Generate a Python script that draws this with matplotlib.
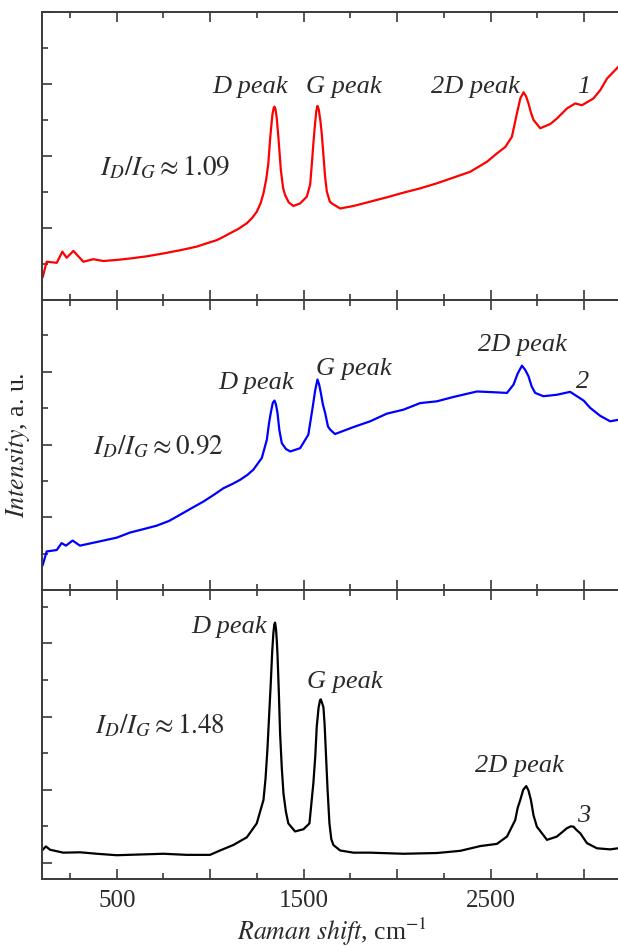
import matplotlib
matplotlib.use("Agg")
import matplotlib.pyplot as plt
from matplotlib.ticker import MultipleLocator, FuncFormatter

plt.rcParams['font.family'] = ['Liberation Serif', 'DejaVu Serif']
plt.rcParams['mathtext.fontset'] = 'stix'

# ---- Data ----
wn1 = [104, 125, 179, 209, 232, 268, 321, 375, 428, 500, 571, 660, 749, 840, 928, 980, 1035,
       1070, 1106, 1150, 1196, 1225, 1249, 1270, 1285, 1300, 1311, 1322, 1333, 1340, 1344,
       1349, 1356, 1365, 1378, 1390, 1401, 1420, 1445, 1481, 1517, 1535, 1544, 1553, 1561,
       1568, 1574, 1581, 1590, 1597, 1606, 1615, 1624, 1640, 1651, 1695, 1767, 1856, 1945,
       2034, 2124, 2213, 2302, 2391, 2481, 2534, 2579, 2614, 2628, 2641, 2660, 2677, 2690,
       2703, 2716, 2730, 2766, 2820, 2855, 2909, 2953, 2989, 3051, 3087, 3123, 3184]
int1 = [0.63, 1.05, 1.02, 1.33, 1.16, 1.35, 1.05, 1.12, 1.07, 1.10, 1.14, 1.20, 1.28, 1.37,
        1.47, 1.56, 1.65, 1.74, 1.84, 1.96, 2.12, 2.27, 2.44, 2.68, 2.95, 3.35, 3.78, 4.55,
        5.15, 5.33, 5.36, 5.30, 5.05, 4.50, 3.60, 3.10, 2.90, 2.70, 2.60, 2.67, 2.86, 3.20,
        3.78, 4.40, 4.89, 5.25, 5.38, 5.28, 4.95, 4.60, 4.00, 3.40, 3.00, 2.72, 2.67, 2.53,
        2.60, 2.72, 2.84, 2.97, 3.09, 3.23, 3.39, 3.55, 3.83, 4.06, 4.24, 4.52, 4.85, 5.17,
        5.60, 5.76, 5.65, 5.45, 5.20, 4.99, 4.76, 4.88, 5.03, 5.31, 5.45, 5.40, 5.59, 5.82,
        6.14, 6.47]

wn2 = [104, 125, 179, 205, 228, 264, 303, 393, 500, 571, 640, 714, 780, 839, 900, 963, 1020,
       1071, 1120, 1160, 1200, 1231, 1276, 1303, 1315, 1324, 1335, 1344, 1352, 1360, 1370,
       1383, 1405, 1428, 1481, 1525, 1549, 1562, 1574, 1583, 1592, 1603, 1615, 1630, 1642,
       1668, 1766, 1856, 1945, 2034, 2123, 2213, 2302, 2427, 2516, 2588, 2623, 2645, 2668,
       2686, 2703, 2720, 2739, 2783, 2855, 2926, 2998, 3033, 3087, 3140, 3183]
int2 = [0.69, 1.06, 1.10, 1.29, 1.22, 1.36, 1.22, 1.32, 1.44, 1.58, 1.67, 1.77, 1.90, 2.07,
        2.25, 2.43, 2.62, 2.80, 2.92, 3.03, 3.17, 3.31, 3.63, 4.13, 4.60, 4.87, 5.15, 5.21,
        5.10, 4.87, 4.40, 4.04, 3.88, 3.81, 3.90, 4.27, 5.05, 5.50, 5.79, 5.65, 5.42, 5.10,
        4.87, 4.50, 4.41, 4.29, 4.48, 4.64, 4.85, 4.96, 5.14, 5.19, 5.31, 5.46, 5.44, 5.42,
        5.65, 5.95, 6.17, 6.05, 5.88, 5.60, 5.42, 5.33, 5.37, 5.45, 5.21, 5.01, 4.79, 4.64,
        4.68]

wn3 = [104, 121, 143, 214, 303, 393, 500, 625, 749, 875, 999, 1053, 1124, 1196, 1249, 1285,
       1296, 1306, 1315, 1324, 1332, 1338, 1343, 1347, 1352, 1356, 1360, 1367, 1374, 1383,
       1392, 1405, 1418, 1454, 1499, 1531, 1552, 1562, 1570, 1580, 1588, 1592, 1600, 1606,
       1612, 1620, 1628, 1638, 1648, 1659, 1695, 1766, 1856, 2034, 2213, 2338, 2445, 2534,
       2588, 2632, 2645, 2659, 2675, 2691, 2703, 2716, 2730, 2748, 2802, 2855, 2909, 2930,
       2944, 2960, 2980, 3016, 3069, 3140, 3183]
int3 = [0.36, 0.45, 0.36, 0.28, 0.29, 0.25, 0.21, 0.23, 0.25, 0.22, 0.22, 0.34, 0.49, 0.70,
        1.08, 1.72, 2.30, 3.09, 4.00, 4.91, 5.80, 6.28, 6.52, 6.57, 6.40, 6.10, 5.70, 4.70,
        3.54, 2.60, 1.90, 1.40, 1.08, 0.86, 0.92, 1.08, 2.18, 2.90, 3.72, 4.25, 4.45, 4.47,
        4.35, 4.25, 3.80, 2.90, 2.00, 1.08, 0.65, 0.49, 0.34, 0.28, 0.28, 0.25, 0.27, 0.33,
        0.46, 0.52, 0.72, 1.17, 1.50, 1.72, 2.00, 2.10, 1.98, 1.72, 1.30, 0.99, 0.63, 0.72,
        0.95, 1.00, 0.99, 0.90, 0.81, 0.54, 0.40, 0.37, 0.40]

colors = ['#ff0000', '#0000ff', '#000000']
ratios = [r'$I_D/I_G \approx 1.09$', r'$I_D/I_G \approx 0.92$', r'$I_D/I_G \approx 1.48$']
ylims = [(0, 8), (0, 7.99), (-0.44, 7.46)]

# label positions (data coords)
peak_text = [
    [(1213, 5.74, 'D peak'), (1717, 5.74, 'G peak'), (2418, 5.74, '2D peak'), (2996, 5.74, '1')],
    [(1245, 5.53, 'D peak'), (1770, 5.92, 'G peak'), (2668, 6.56, '2D peak'), (2993, 5.56, '2')],
    [(1101, 6.28, 'D peak'), (1722, 4.78, 'G peak'), (2654, 2.49, '2D peak'), (2998, 1.13, '3')],
]
ratio_pos = [(410, 3.46), (375, 3.72), (384, 3.54)]

W, H = 618, 947
fig = plt.figure(figsize=(W / 100, H / 100), dpi=100)
tops = [11.7, 299.5, 590.0]
bots = [299.5, 590.0, 879.0]
left = 42 / W
right = 1.0

spine_c = '#3a3a3a'
text_c = '#2a2a2a'
data = [(wn1, int1), (wn2, int2), (wn3, int3)]
for i in range(3):
    ax = fig.add_axes([left, 1 - bots[i] / H, right - left, (bots[i] - tops[i]) / H])
    x, y = data[i]
    ax.plot(x, y, color=colors[i], lw=1.6, solid_joinstyle='round')
    ax.set_xlim(100, 3182)
    ax.set_ylim(*ylims[i])
    ax.spines['right'].set_visible(False)
    for s in ['left', 'top', 'bottom']:
        ax.spines[s].set_color(spine_c)
        ax.spines[s].set_linewidth(1.4)
    ax.xaxis.set_major_locator(MultipleLocator(500))
    ax.xaxis.set_minor_locator(MultipleLocator(250))
    ax.yaxis.set_major_locator(MultipleLocator(2))
    ax.yaxis.set_minor_locator(MultipleLocator(1))
    ax.tick_params(which='both', direction='in', top=True, bottom=True, left=True, right=False,
                   color=spine_c, width=1.2)
    ax.tick_params(which='major', length=7)
    ax.tick_params(which='minor', length=4)
    ax.tick_params(axis='y', labelleft=False)
    if i < 2:
        ax.tick_params(axis='x', labelbottom=False)
    else:
        ax.xaxis.set_major_formatter(FuncFormatter(
            lambda v, p: f'{int(v)}' if int(v) in (500, 1500, 2500) else ''))
        ax.tick_params(axis='x', labelsize=18, labelcolor=text_c, pad=8)
    for (px, py, t) in peak_text[i]:
        ax.text(px, py, t, fontsize=19, style='italic', ha='center', va='baseline', color=text_c)
    ax.text(ratio_pos[i][0], ratio_pos[i][1], ratios[i], fontsize=19.5, ha='left', va='baseline',
            color=text_c)

fig.text(18 / W, 1 - 445 / H, r'$\mathit{Intensity}$, a. u.', rotation=90, fontsize=18.5,
         ha='center', va='center', color=text_c)
fig.text(332 / W, 1 - 932 / H, r'$\mathit{Raman\ shift}$, cm$^{-1}$', fontsize=18.5,
         ha='center', va='center', color=text_c)

fig.savefig('out.png', dpi=100)
